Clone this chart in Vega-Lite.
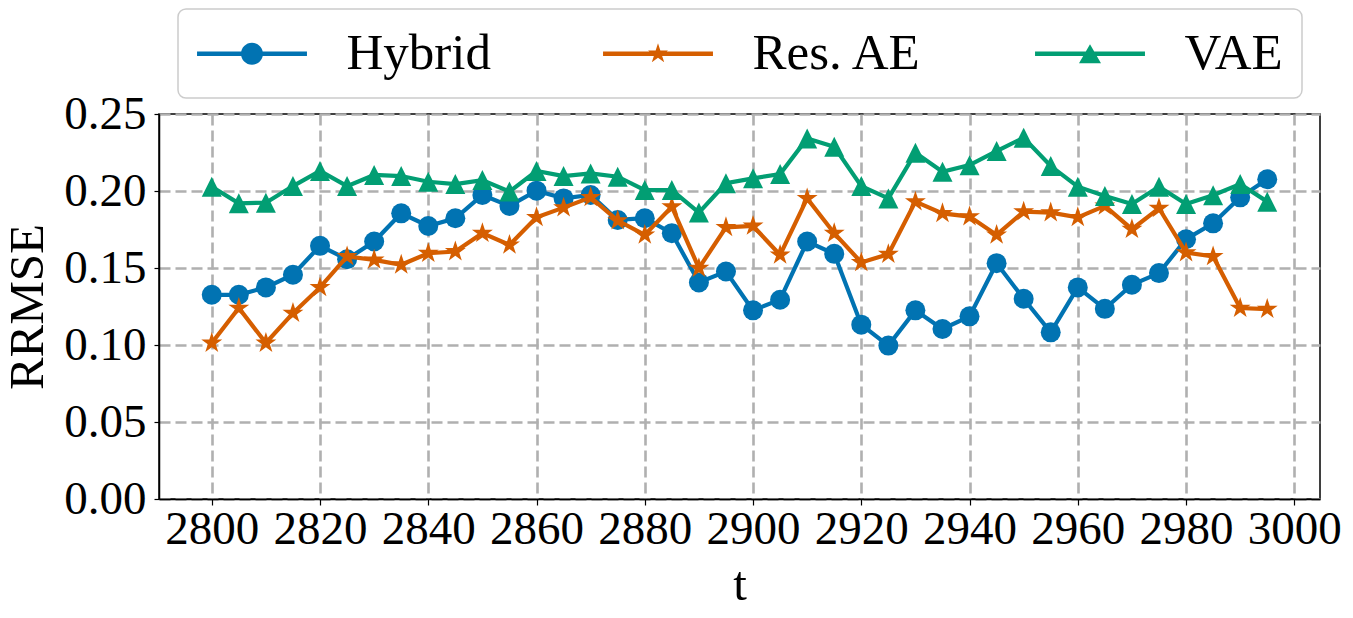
{
  "$schema": "https://vega.github.io/schema/vega-lite/v6.json",
  "width": 1161,
  "height": 385,
  "autosize": {"type": "none"},
  "padding": {"left": 159, "top": 114, "right": 33, "bottom": 119},
  "background": "white",
  "config": {
    "font": "Liberation Serif",
    "view": {"stroke": "black", "strokeWidth": 1.5},
    "axis": {
      "labelFont": "Liberation Serif",
      "labelFontSize": 47,
      "labelColor": "black",
      "labelOverlap": false,
      "labelFlush": false,
      "titleFont": "Liberation Serif",
      "titleFontSize": 49,
      "titleFontWeight": "normal",
      "titleColor": "black",
      "domainColor": "black",
      "domainWidth": 1.5,
      "tickColor": "black",
      "tickWidth": 1.2,
      "tickSize": 6,
      "grid": true,
      "gridColor": "#b0b0b0",
      "gridWidth": 2.6,
      "gridDash": [11, 5],
      "gridOpacity": 1
    },
    "axisX": {"labelPadding": 1, "titlePadding": 8},
    "axisY": {"tickSize": 5, "labelPadding": 8, "titlePadding": 11}
  },
  "data": {
    "values": [
      {"t": 2800, "model": "Hybrid", "rrmse": 0.1326},
      {"t": 2805, "model": "Hybrid", "rrmse": 0.1326},
      {"t": 2810, "model": "Hybrid", "rrmse": 0.1374},
      {"t": 2815, "model": "Hybrid", "rrmse": 0.1456},
      {"t": 2820, "model": "Hybrid", "rrmse": 0.1644},
      {"t": 2825, "model": "Hybrid", "rrmse": 0.1557},
      {"t": 2830, "model": "Hybrid", "rrmse": 0.1672},
      {"t": 2835, "model": "Hybrid", "rrmse": 0.1855},
      {"t": 2840, "model": "Hybrid", "rrmse": 0.1773},
      {"t": 2845, "model": "Hybrid", "rrmse": 0.1823},
      {"t": 2850, "model": "Hybrid", "rrmse": 0.1974},
      {"t": 2855, "model": "Hybrid", "rrmse": 0.1903},
      {"t": 2860, "model": "Hybrid", "rrmse": 0.2002},
      {"t": 2865, "model": "Hybrid", "rrmse": 0.1952},
      {"t": 2870, "model": "Hybrid", "rrmse": 0.1974},
      {"t": 2875, "model": "Hybrid", "rrmse": 0.1812},
      {"t": 2880, "model": "Hybrid", "rrmse": 0.1823},
      {"t": 2885, "model": "Hybrid", "rrmse": 0.1726},
      {"t": 2890, "model": "Hybrid", "rrmse": 0.1406},
      {"t": 2895, "model": "Hybrid", "rrmse": 0.1477},
      {"t": 2900, "model": "Hybrid", "rrmse": 0.1225},
      {"t": 2905, "model": "Hybrid", "rrmse": 0.1294},
      {"t": 2910, "model": "Hybrid", "rrmse": 0.1672},
      {"t": 2915, "model": "Hybrid", "rrmse": 0.1592},
      {"t": 2920, "model": "Hybrid", "rrmse": 0.1132},
      {"t": 2925, "model": "Hybrid", "rrmse": 0.0996},
      {"t": 2930, "model": "Hybrid", "rrmse": 0.1225},
      {"t": 2935, "model": "Hybrid", "rrmse": 0.1104},
      {"t": 2940, "model": "Hybrid", "rrmse": 0.1186},
      {"t": 2945, "model": "Hybrid", "rrmse": 0.1531},
      {"t": 2950, "model": "Hybrid", "rrmse": 0.1300},
      {"t": 2955, "model": "Hybrid", "rrmse": 0.1082},
      {"t": 2960, "model": "Hybrid", "rrmse": 0.1374},
      {"t": 2965, "model": "Hybrid", "rrmse": 0.1235},
      {"t": 2970, "model": "Hybrid", "rrmse": 0.1391},
      {"t": 2975, "model": "Hybrid", "rrmse": 0.1467},
      {"t": 2980, "model": "Hybrid", "rrmse": 0.1687},
      {"t": 2985, "model": "Hybrid", "rrmse": 0.1790},
      {"t": 2990, "model": "Hybrid", "rrmse": 0.1959},
      {"t": 2995, "model": "Hybrid", "rrmse": 0.2076},
      {"t": 2800, "model": "Res. AE", "rrmse": 0.1013},
      {"t": 2805, "model": "Res. AE", "rrmse": 0.1240},
      {"t": 2810, "model": "Res. AE", "rrmse": 0.1013},
      {"t": 2815, "model": "Res. AE", "rrmse": 0.1207},
      {"t": 2820, "model": "Res. AE", "rrmse": 0.1374},
      {"t": 2825, "model": "Res. AE", "rrmse": 0.1575},
      {"t": 2830, "model": "Res. AE", "rrmse": 0.1553},
      {"t": 2835, "model": "Res. AE", "rrmse": 0.1521},
      {"t": 2840, "model": "Res. AE", "rrmse": 0.1596},
      {"t": 2845, "model": "Res. AE", "rrmse": 0.1607},
      {"t": 2850, "model": "Res. AE", "rrmse": 0.1726},
      {"t": 2855, "model": "Res. AE", "rrmse": 0.1650},
      {"t": 2860, "model": "Res. AE", "rrmse": 0.1829},
      {"t": 2865, "model": "Res. AE", "rrmse": 0.1892},
      {"t": 2870, "model": "Res. AE", "rrmse": 0.1959},
      {"t": 2875, "model": "Res. AE", "rrmse": 0.1808},
      {"t": 2880, "model": "Res. AE", "rrmse": 0.1715},
      {"t": 2885, "model": "Res. AE", "rrmse": 0.1898},
      {"t": 2890, "model": "Res. AE", "rrmse": 0.1499},
      {"t": 2895, "model": "Res. AE", "rrmse": 0.1764},
      {"t": 2900, "model": "Res. AE", "rrmse": 0.1773},
      {"t": 2905, "model": "Res. AE", "rrmse": 0.1585},
      {"t": 2910, "model": "Res. AE", "rrmse": 0.1952},
      {"t": 2915, "model": "Res. AE", "rrmse": 0.1726},
      {"t": 2920, "model": "Res. AE", "rrmse": 0.1536},
      {"t": 2925, "model": "Res. AE", "rrmse": 0.1590},
      {"t": 2930, "model": "Res. AE", "rrmse": 0.1931},
      {"t": 2935, "model": "Res. AE", "rrmse": 0.1855},
      {"t": 2940, "model": "Res. AE", "rrmse": 0.1834},
      {"t": 2945, "model": "Res. AE", "rrmse": 0.1715},
      {"t": 2950, "model": "Res. AE", "rrmse": 0.1866},
      {"t": 2955, "model": "Res. AE", "rrmse": 0.1860},
      {"t": 2960, "model": "Res. AE", "rrmse": 0.1829},
      {"t": 2965, "model": "Res. AE", "rrmse": 0.1903},
      {"t": 2970, "model": "Res. AE", "rrmse": 0.1752},
      {"t": 2975, "model": "Res. AE", "rrmse": 0.1888},
      {"t": 2980, "model": "Res. AE", "rrmse": 0.1600},
      {"t": 2985, "model": "Res. AE", "rrmse": 0.1575},
      {"t": 2990, "model": "Res. AE", "rrmse": 0.1240},
      {"t": 2995, "model": "Res. AE", "rrmse": 0.1233},
      {"t": 2800, "model": "VAE", "rrmse": 0.2028},
      {"t": 2805, "model": "VAE", "rrmse": 0.1920},
      {"t": 2810, "model": "VAE", "rrmse": 0.1924},
      {"t": 2815, "model": "VAE", "rrmse": 0.2032},
      {"t": 2820, "model": "VAE", "rrmse": 0.2130},
      {"t": 2825, "model": "VAE", "rrmse": 0.2032},
      {"t": 2830, "model": "VAE", "rrmse": 0.2104},
      {"t": 2835, "model": "VAE", "rrmse": 0.2097},
      {"t": 2840, "model": "VAE", "rrmse": 0.2060},
      {"t": 2845, "model": "VAE", "rrmse": 0.2045},
      {"t": 2850, "model": "VAE", "rrmse": 0.2071},
      {"t": 2855, "model": "VAE", "rrmse": 0.1996},
      {"t": 2860, "model": "VAE", "rrmse": 0.2130},
      {"t": 2865, "model": "VAE", "rrmse": 0.2097},
      {"t": 2870, "model": "VAE", "rrmse": 0.2114},
      {"t": 2875, "model": "VAE", "rrmse": 0.2093},
      {"t": 2880, "model": "VAE", "rrmse": 0.2006},
      {"t": 2885, "model": "VAE", "rrmse": 0.2006},
      {"t": 2890, "model": "VAE", "rrmse": 0.1860},
      {"t": 2895, "model": "VAE", "rrmse": 0.2050},
      {"t": 2900, "model": "VAE", "rrmse": 0.2082},
      {"t": 2905, "model": "VAE", "rrmse": 0.2110},
      {"t": 2910, "model": "VAE", "rrmse": 0.2341},
      {"t": 2915, "model": "VAE", "rrmse": 0.2287},
      {"t": 2920, "model": "VAE", "rrmse": 0.2032},
      {"t": 2925, "model": "VAE", "rrmse": 0.1952},
      {"t": 2930, "model": "VAE", "rrmse": 0.2248},
      {"t": 2935, "model": "VAE", "rrmse": 0.2125},
      {"t": 2940, "model": "VAE", "rrmse": 0.2168},
      {"t": 2945, "model": "VAE", "rrmse": 0.2259},
      {"t": 2950, "model": "VAE", "rrmse": 0.2346},
      {"t": 2955, "model": "VAE", "rrmse": 0.2162},
      {"t": 2960, "model": "VAE", "rrmse": 0.2028},
      {"t": 2965, "model": "VAE", "rrmse": 0.1968},
      {"t": 2970, "model": "VAE", "rrmse": 0.1916},
      {"t": 2975, "model": "VAE", "rrmse": 0.2028},
      {"t": 2980, "model": "VAE", "rrmse": 0.1916},
      {"t": 2985, "model": "VAE", "rrmse": 0.1972},
      {"t": 2990, "model": "VAE", "rrmse": 0.2045},
      {"t": 2995, "model": "VAE", "rrmse": 0.1931}
    ]
  },
  "encoding": {
    "x": {
      "field": "t",
      "type": "quantitative",
      "scale": {"domain": [2790.25, 3004.75], "nice": false, "zero": false},
      "axis": {"values": [2800, 2820, 2840, 2860, 2880, 2900, 2920, 2940, 2960, 2980, 3000], "format": "d", "title": "t"}
    },
    "y": {
      "field": "rrmse",
      "type": "quantitative",
      "scale": {"domain": [0, 0.25], "nice": false, "zero": true},
      "axis": {"values": [0, 0.05, 0.1, 0.15, 0.2, 0.25], "format": ".2f", "title": "RRMSE"}
    },
    "color": {
      "field": "model",
      "type": "nominal",
      "scale": {"domain": ["Hybrid", "Res. AE", "VAE"], "range": ["#0173b2", "#d55e00", "#029e73"]},
      "legend": {
        "orient": "none",
        "legendX": 19,
        "legendY": -105,
        "direction": "horizontal",
        "title": null,
        "symbolSize": 2304,
        "symbolOffset": 29.5,
        "labelOffset": 69,
        "columnPadding": 112,
        "padding": 19,
        "strokeColor": "#cccccc",
        "fillColor": "white",
        "cornerRadius": 8,
        "labelFont": "Liberation Serif",
        "labelFontSize": 51,
        "labelColor": "black",
        "labelLimit": 500,
        "symbolStrokeWidth": 0,
        "symbolOpacity": 1,
        "encoding": {
          "legend": {"strokeWidth": {"value": 1.5}},
          "symbols": {
            "shape": {"value": {"expr": "datum.value === 'Hybrid' ? 'M-2.29,-0.09H2.29V0.09H-2.29Z M-0.458,0A0.458,0.458 0 1,1 0.458,0A0.458,0.458 0 1,1 -0.458,0Z' : datum.value === 'Res. AE' ? 'M-2.29,-0.09H2.29V0.09H-2.29Z M0,-0.4375L0.0982,-0.1352L0.4161,-0.1352L0.1589,0.0516L0.2572,0.3539L0,0.1671L-0.2572,0.3539L-0.1589,0.0516L-0.4161,-0.1352L-0.0982,-0.1352Z' : 'M-2.29,-0.09H2.29V0.09H-2.29Z M0,-0.396L0.458,0.396L-0.458,0.396Z'"}},
            "strokeWidth": {"value": 0},
            "opacity": {"value": 1}
          }
        }
      }
    }
  },
  "layer": [
    {
      "transform": [{"filter": "datum.model === 'Hybrid'"}],
      "mark": {"type": "line", "strokeWidth": 4.2}
    },
    {
      "transform": [{"filter": "datum.model === 'Hybrid'"}],
      "mark": {"type": "point", "filled": true, "opacity": 1, "size": 400, "shape": "circle"}
    },
    {
      "transform": [{"filter": "datum.model === 'Res. AE'"}],
      "mark": {"type": "line", "strokeWidth": 4.2}
    },
    {
      "transform": [{"filter": "datum.model === 'Res. AE'"}],
      "mark": {"type": "point", "filled": true, "opacity": 1, "size": 400, "shape": "M0,-1.1L0.247,-0.34L1.046,-0.34L0.4,0.13L0.647,0.89L0,0.42L-0.647,0.89L-0.4,0.13L-1.046,-0.34L-0.247,-0.34Z"}
    },
    {
      "transform": [{"filter": "datum.model === 'VAE'"}],
      "mark": {"type": "line", "strokeWidth": 4.2}
    },
    {
      "transform": [{"filter": "datum.model === 'VAE'"}],
      "mark": {"type": "point", "filled": true, "opacity": 1, "size": 400, "shape": "M0,-1L1,1L-1,1Z"}
    }
  ]
}
